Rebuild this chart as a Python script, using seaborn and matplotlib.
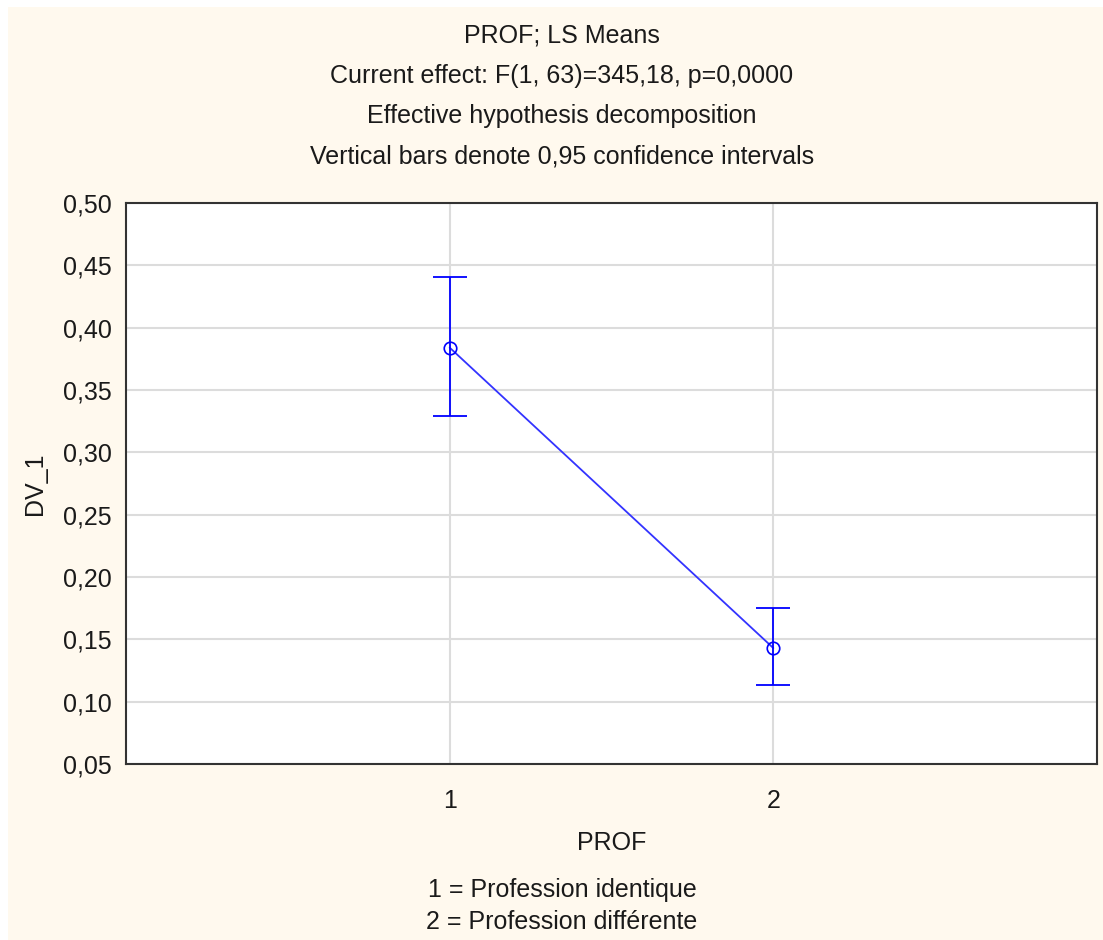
"""
PROF; LS Means plot (STATISTICA-style) recreated with seaborn.
"""

import matplotlib
matplotlib.use("Agg")
import matplotlib.pyplot as plt
import matplotlib.ticker as mticker
from matplotlib.patches import Rectangle
import seaborn as sns
import pandas as pd

# Data
prof_levels = [1, 2]
ls_means = [0.384, 0.143]
ci_lower = [0.329, 0.113]
ci_upper = [0.441, 0.175]

title_lines = [
    "PROF; LS Means",
    "Current effect: F(1, 63)=345,18, p=0,0000",
    "Effective hypothesis decomposition",
    "Vertical bars denote 0,95 confidence intervals",
]
footer_lines = ["1 = Profession identique", "2 = Profession différente"]

sns.set_style("white")
plt.rcParams['font.family'] = ['Liberation Sans', 'DejaVu Sans']

BG = '#fff9ee'
BLUE = '#0000ff'
TEXT = '#1a1a1a'
FS = 18

df = pd.DataFrame({'PROF': prof_levels, 'DV_1': ls_means})

fig = plt.figure(figsize=(11.03, 9.40), dpi=100)
fig.patch.set_facecolor('white')
# cream panel (screenshot has a thin white strip on top/left)
fig.patches.append(Rectangle((8 / 1103, 0), 1 - 8 / 1103, 1 - 7 / 940,
                             transform=fig.transFigure, facecolor=BG,
                             edgecolor='none', zorder=-10))

ax = fig.add_axes([126 / 1103, 1 - 764 / 940, 971 / 1103, 561 / 940])
ax.set_facecolor('white')

sns.lineplot(data=df, x='PROF', y='DV_1', ax=ax, color='#3333ff',
             linewidth=1.3, marker='o', markersize=9, markerfacecolor='none',
             markeredgecolor=BLUE, markeredgewidth=1.2, zorder=3)

yerr = [[m - lo for m, lo in zip(ls_means, ci_lower)],
        [hi - m for m, hi in zip(ls_means, ci_upper)]]
ax.errorbar(prof_levels, ls_means, yerr=yerr, fmt='none', ecolor=BLUE,
            elinewidth=1.3, capsize=12, capthick=1.3, zorder=3)

ax.set_xlim(0, 3)
ax.set_ylim(0.05, 0.50)
ax.set_xticks(prof_levels)
ax.set_yticks([0.05 + 0.05 * i for i in range(10)])
ax.yaxis.set_major_formatter(
    mticker.FuncFormatter(lambda v, _: f"{v:.2f}".replace('.', ',')))

ax.grid(True, color='#dcdcdc', linewidth=1.5, zorder=0)
ax.set_axisbelow(True)
for s in ax.spines.values():
    s.set_color('#333333')
    s.set_linewidth(1.5)

ax.tick_params(axis='both', direction='in', length=4, width=1,
               colors='#333333', labelcolor=TEXT, labelsize=FS)
ax.tick_params(axis='y', pad=10)
ax.tick_params(axis='x', pad=18)

ax.set_xlabel('PROF', fontsize=FS, color=TEXT, labelpad=13)
ax.set_ylabel('DV_1', fontsize=FS, color=TEXT, labelpad=12)

for i, line in enumerate(title_lines):
    fig.text(562 / 1103, 1 - (35 + 40.5 * i) / 940, line, ha='center',
             va='center', fontsize=FS, color=TEXT)

for i, line in enumerate(footer_lines):
    fig.text(562 / 1103, 1 - (890 + 32 * i) / 940, line, ha='center',
             va='center', fontsize=FS, color=TEXT)

fig.savefig('out.png', dpi=100, facecolor=fig.get_facecolor())
